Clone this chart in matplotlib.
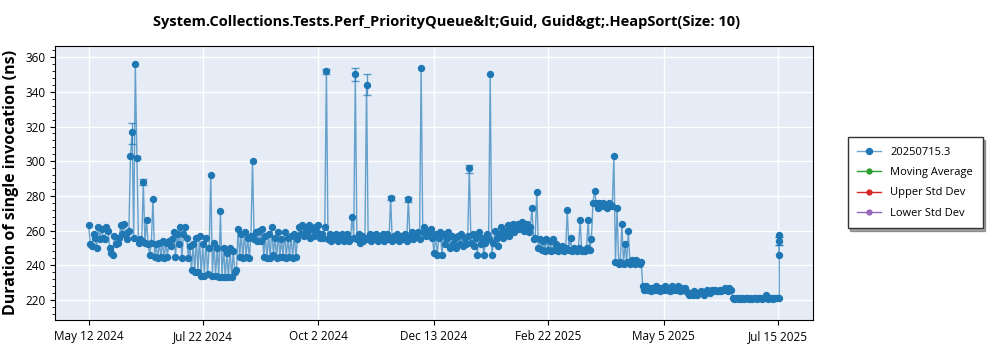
import numpy as np
import pandas as pd
import matplotlib
matplotlib.use('Agg')
import matplotlib.pyplot as plt
from matplotlib.ticker import MultipleLocator
from matplotlib.colors import to_rgba

plt.rcParams['font.family'] = ['Open Sans', 'DejaVu Sans']

# daily values, starting May 12 2024
values = [
    263, 252, 251, 258, 256, 250, 262, 255, 261, 256,
    255, 262, 260, 250, 247, 246, 257, 252, 253, 256,
    263, 258, 264, 258, 255, 260, 303, 317, 256, 356,
    302, 253, 255, 254, 288, 253, 266, 252, 246, 253,
    278, 245, 252, 244, 253, 245, 254, 244, 253, 245,
    254, 251, 255, 259, 245, 258, 252, 262, 244, 258,
    262, 256, 244, 251, 237, 252, 236, 256, 236, 257,
    234, 252, 234, 256, 235, 250, 292, 234, 253, 234,
    250, 233, 271, 233, 250, 233, 247, 233, 250, 233,
    248, 236, 237, 261, 245, 258, 244, 259, 245, 256,
    244, 257, 300, 255, 259, 254, 260, 254, 261, 245,
    257, 244, 258, 244, 262, 246, 256, 244, 259, 245,
    255, 245, 259, 244, 256, 245, 257, 244, 258, 245,
    255, 262, 258, 263, 257, 261, 259, 263, 256, 261,
    257, 262, 259, 263, 256, 258, 256, 262, 352, 255,
    258, 254, 257, 255, 258, 254, 257, 255, 258, 254,
    256, 258, 254, 255, 268, 256, 350.5, 255, 258, 253,
    257, 254, 256, 344, 255, 258, 254, 257, 255, 258,
    254, 257, 255, 258, 254, 256, 258, 255, 279, 254,
    257, 255, 258, 254, 256, 257, 255, 258, 254, 278,
    256, 259, 255, 258, 257, 259, 255, 353.5, 259, 262,
    257, 260, 258, 261, 256, 247, 258, 246, 256, 259,
    246, 258, 252, 256, 259, 250, 257, 252, 256, 250,
    257, 252, 258, 251, 256, 252, 257, 296, 253, 258,
    251, 256, 246, 259, 252, 256, 246, 253, 258, 255,
    350.5, 246, 253, 260, 256, 251, 258, 262, 256, 260,
    258, 263, 257, 260, 264, 259, 262, 264, 261, 263,
    265, 260, 263, 264, 259, 262, 273, 255, 256, 282.5,
    250, 255, 249, 254, 248, 255, 249, 254, 248, 255,
    249, 252, 248, 250, 249, 251, 248, 250, 272, 249,
    255.5, 248, 250, 249, 248, 250, 266, 248, 249, 248,
    250, 266, 249, 255, 276, 283, 276, 273, 276, 274,
    276, 274, 275, 273, 276, 275, 274, 303, 242, 273,
    241, 242, 264, 241, 252, 242, 260, 241, 243, 242,
    241, 243, 242, 241, 242, 228, 226, 228, 226, 227,
    225, 227, 226, 228, 226, 227, 225, 227, 226, 228,
    226, 227, 225, 228, 226, 227, 226, 228, 225, 227,
    226, 227, 225, 224, 223, 224, 223, 225, 224, 223,
    224, 225, 224, 223, 224, 226, 225, 224, 226, 225,
    226, 225, 225, 226, 225, 226, 227, 226, 225, 227,
    226, 221, 220.5, 221, 220.5, 221, 220.5, 221, 220.5, 221,
    221, 220.5, 221, 220.5, 221, 221, 220.5, 221, 221, 220.5,
    221, 221, 223, 220.5, 221, 221, 220.5, 221, 221, 221,
    221,
]
# extra runs on the last day (Jul 15 2025)
last_values = [257.5, 254, 246]

# points that carry error bars: index into values, lower, upper
err_idx = [27, 30, 34, 148, 166, 173, 188, 199, 237]
err_lo = [310, 301, 286, 350, 346, 338, 277.5, 276.5, 293]
err_hi = [322, 303, 290, 353, 354, 350, 280, 279.5, 298]

dates = list(pd.date_range('2024-05-12', periods=len(values), freq='D'))
dates += [dates[-1]] * len(last_values)
all_vals = values + last_values

tick_dates = pd.to_datetime(['2024-05-12', '2024-07-22', '2024-10-02', '2024-12-13',
                             '2025-02-22', '2025-05-05', '2025-07-15'])
tick_labels = ['May 12 2024', 'Jul 22 2024', 'Oct 2 2024', 'Dec 13 2024',
               'Feb 22 2025', 'May 5 2025', 'Jul 15 2025']

blue = '#1f77b4'
fig = plt.figure(figsize=(10, 3.5), dpi=100)
ax = fig.add_axes([0.055, 0.086, 0.758, 0.783])
ax.set_facecolor('#e5ecf6')
ax.grid(True, color='white', linewidth=1)
ax.set_axisbelow(True)

ax.plot(dates, all_vals, color=to_rgba(blue, 0.65), linewidth=1,
        marker='o', markersize=4.3, markerfacecolor=blue, markeredgecolor=blue,
        zorder=3, label='20250715.3')

ex = [dates[i] for i in err_idx]
ey = [values[i] for i in err_idx]
yerr = [[v - lo for v, lo in zip(ey, err_lo)], [hi - v for v, hi in zip(ey, err_hi)]]
ax.errorbar(ex, ey, yerr=yerr, fmt='none', ecolor=blue, elinewidth=1,
            capsize=3, alpha=0.7, zorder=2)
ax.errorbar([dates[-2]], [last_values[1]], yerr=[[2.5], [2.5]], fmt='none',
            ecolor=blue, elinewidth=1, capsize=3, zorder=2)

ax.plot([], [], color='#2ca02c', marker='o', markersize=3.5, linewidth=1, label='Moving Average')
ax.plot([], [], color='#d62728', marker='o', markersize=3.5, linewidth=1, label='Upper Std Dev')
ax.plot([], [], color='#9467bd', marker='o', markersize=3.5, linewidth=1, label='Lower Std Dev')

ax.set_xlim(pd.Timestamp('2024-04-21'), pd.Timestamp('2025-08-06'))
ax.set_ylim(208.5, 366.5)
ax.set_xticks(tick_dates)
ax.set_xticklabels(tick_labels, fontsize=8.5)
ax.yaxis.set_major_locator(MultipleLocator(20))
ax.yaxis.set_minor_locator(MultipleLocator(4))
ax.tick_params(axis='y', labelsize=8.5)
for s in ax.spines.values():
    s.set_color('black')

ax.set_ylabel('Duration of single invocation (ns)', fontsize=11.5, fontweight='bold')
ax.set_title('System.Collections.Tests.Perf_PriorityQueue&lt;Guid, Guid&gt;.HeapSort(Size: 10)',
             fontsize=10.5, fontweight='bold', pad=14, x=0.517)

leg = fig.legend(loc='upper left', bbox_to_anchor=(0.842, 0.624), fontsize=8,
                 frameon=True, fancybox=False, shadow=True, handlelength=2.2,
                 borderpad=0.85, labelspacing=0.85)
leg.get_frame().set_edgecolor('#333333')

fig.savefig('out.png', dpi=100)
